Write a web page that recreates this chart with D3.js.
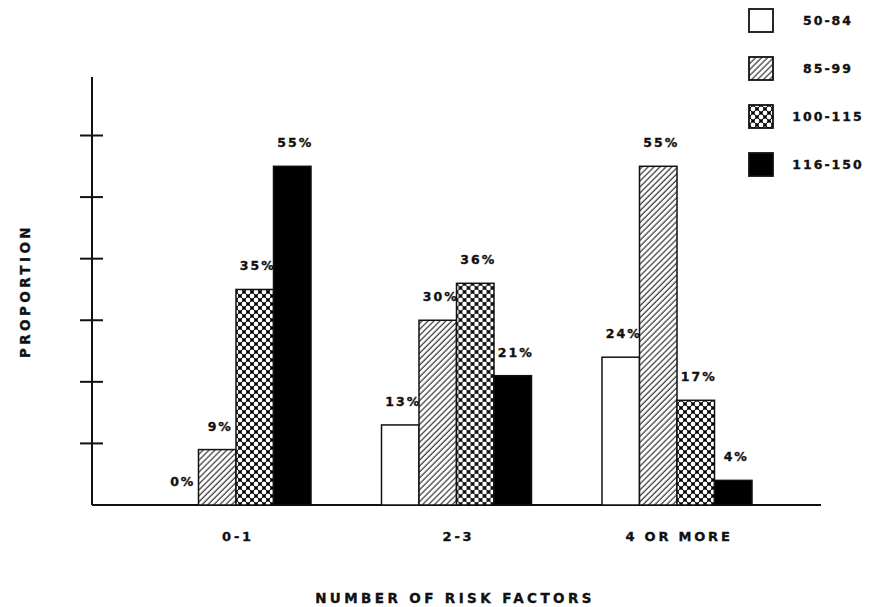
<!DOCTYPE html>
<html>
<head>
<meta charset="utf-8">
<script src="https://cdn.jsdelivr.net/npm/d3@7"></script>
<style>
  body { margin: 0; background: #fff; }
  svg text { font-family: "DejaVu Sans", sans-serif; font-weight: bold; fill: #111; stroke: #111; stroke-width: 0.35px; }
</style>
</head>
<body>
<div id="chart"></div>
<script>
// data
const categories = ['0-1', '2-3', '4 OR MORE']
const series = ['50-84', '85-99', '100-115', '116-150']
const values = [
  [0, 9, 35, 55],    // 0-1
  [13, 30, 36, 21],  // 2-3
  [24, 55, 17, 4]    // 4 OR MORE
]
const yTicks = [10, 20, 30, 40, 50, 60]

const width = 877, height = 607
const svg = d3.select('#chart').append('svg')
  .attr('width', width)
  .attr('height', height)

// fill patterns
const defs = svg.append('defs')
const hatch = defs.append('pattern')
  .attr('id', 'hatch')
  .attr('patternUnits', 'userSpaceOnUse')
  .attr('width', 4.2).attr('height', 4.2)
  .attr('patternTransform', 'rotate(45)')
hatch.append('rect').attr('width', 4.2).attr('height', 4.2).attr('fill', '#fff')
hatch.append('line')
  .attr('x1', 1).attr('y1', 0).attr('x2', 1).attr('y2', 4.2)
  .attr('stroke', '#222').attr('stroke-width', 1.1)

const dots = defs.append('pattern')
  .attr('id', 'dots')
  .attr('patternUnits', 'userSpaceOnUse')
  .attr('width', 8).attr('height', 8)
dots.append('rect').attr('width', 8).attr('height', 8).attr('fill', '#000')
const dotPos = [[0, 0], [8, 0], [0, 8], [8, 8], [4, 4]]
dots.selectAll('circle').data(dotPos).join('circle')
  .attr('cx', d => d[0]).attr('cy', d => d[1])
  .attr('r', 2.4).attr('fill', '#fff')

const fills = { '50-84': '#fff', '85-99': 'url(#hatch)', '100-115': 'url(#dots)', '116-150': '#000' }

// scales
const axisX = 92
const y = d3.scaleLinear().domain([0, 69.5]).range([505, 77])
const x0 = d3.scalePoint().domain(categories).range([236, 677])
const x1 = d3.scaleBand().domain(series).range([-75, 75]).padding(0)

// axes
svg.append('line')
  .attr('x1', axisX).attr('x2', axisX)
  .attr('y1', y(0)).attr('y2', y(69.5))
  .attr('stroke', '#111').attr('stroke-width', 2)
svg.append('line')
  .attr('x1', axisX).attr('x2', 821)
  .attr('y1', y(0)).attr('y2', y(0))
  .attr('stroke', '#111').attr('stroke-width', 2)
svg.selectAll('.tick-mark').data(yTicks).join('line')
  .attr('class', 'tick-mark')
  .attr('x1', axisX - 12).attr('x2', axisX + 11)
  .attr('y1', d => y(d)).attr('y2', d => y(d))
  .attr('stroke', '#111').attr('stroke-width', 2)

// bars
const groups = svg.selectAll('.group').data(categories).join('g')
  .attr('class', 'group')
  .attr('transform', d => `translate(${x0(d)},0)`)

groups.selectAll('rect')
  .data((d, i) => series.map((s, j) => ({ s: s, v: values[i][j] })))
  .join('rect')
  .attr('x', d => x1(d.s))
  .attr('y', d => y(d.v))
  .attr('width', x1.bandwidth())
  .attr('height', d => y(0) - y(d.v))
  .attr('fill', d => fills[d.s])
  .attr('stroke', '#111')
  .attr('stroke-width', 1.5)

groups.selectAll('text')
  .data((d, i) => series.map((s, j) => ({ s: s, v: values[i][j] })))
  .join('text')
  .attr('x', d => x1(d.s) + x1.bandwidth() / 2 + 3)
  .attr('y', d => y(d.v) - 19)
  .attr('text-anchor', 'middle')
  .attr('font-size', '12.5px')
  .attr('letter-spacing', '2px')
  .text(d => d.v + '%')

// category labels
svg.selectAll('.cat-label').data(categories).join('text')
  .attr('class', 'cat-label')
  .attr('x', d => x0(d) + 2)
  .attr('y', 541)
  .attr('text-anchor', 'middle')
  .attr('font-size', '13px')
  .attr('letter-spacing', '2.8px')
  .text(d => d)

// axis titles
svg.append('text')
  .attr('x', 455).attr('y', 603)
  .attr('text-anchor', 'middle')
  .attr('font-size', '13.5px')
  .attr('letter-spacing', '3.4px')
  .text('NUMBER OF RISK FACTORS')

svg.append('text')
  .attr('transform', 'translate(30,291) rotate(-90)')
  .attr('text-anchor', 'middle')
  .attr('font-size', '13.5px')
  .attr('letter-spacing', '3.4px')
  .text('PROPORTION')

// legend
const legend = svg.selectAll('.legend').data(series).join('g')
  .attr('class', 'legend')
  .attr('transform', (d, i) => `translate(749,${9 + i * 48})`)
legend.append('rect')
  .attr('width', 24).attr('height', 23)
  .attr('fill', d => fills[d])
  .attr('stroke', '#111').attr('stroke-width', 1.8)
legend.append('text')
  .attr('x', 79)
  .attr('y', 16)
  .attr('text-anchor', 'middle')
  .attr('font-size', '12.5px')
  .attr('letter-spacing', '2px')
  .text(d => d)
</script>
</body>
</html>
